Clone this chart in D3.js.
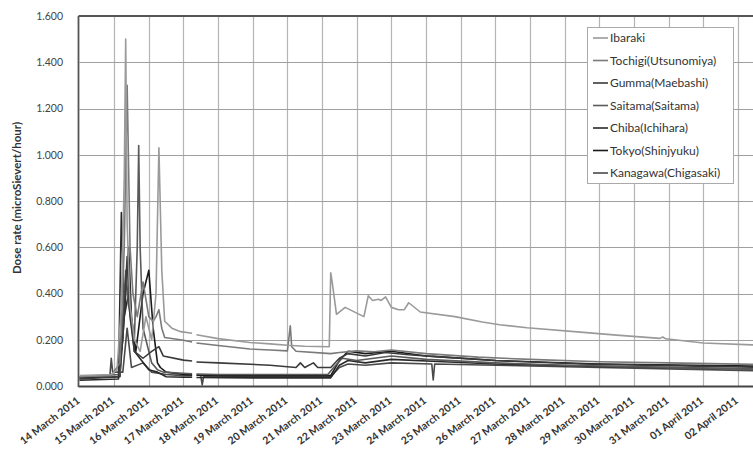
<!DOCTYPE html>
<html><head><meta charset="utf-8">
<script src="https://cdn.jsdelivr.net/npm/d3@7"></script>
<style>
html,body{margin:0;padding:0;background:#fff;}
svg{display:block;}
text{font-family:Lato,"Open Sans",sans-serif;}
</style></head>
<body>
<svg id="chart" width="753" height="450"></svg>
<script>
// ---- data ----
const seriesNames = ["Ibaraki","Tochigi(Utsunomiya)","Gumma(Maebashi)","Saitama(Saitama)","Chiba(Ichihara)","Tokyo(Shinjyuku)","Kanagawa(Chigasaki)"];
const yTicks = [0,0.2,0.4,0.6,0.8,1.0,1.2,1.4,1.6];

const ibaraki = [["03-14 00",0.045],["03-14 22",0.05],["03-15 02",0.07],["03-15 05",0.35],["03-15 07",0.9],["03-15 08",1.50],["03-15 09",0.7],["03-15 11",0.35],["03-15 14",0.2],["03-15 18",0.15],["03-15 22",0.3],["03-16 02",0.2],["03-16 05",0.4],["03-16 07",1.03],["03-16 09",0.5],["03-16 11",0.28],["03-16 16",0.25],["03-16 22",0.235],["03-17 06",0.228],["03-17 07",null],["03-17 09",0.222],["03-18 00",0.205],["03-18 22",0.188],["03-19 12",0.182],["03-20 00",0.176],["03-20 12",0.172],["03-21 05",0.17],["03-21 06",0.49],["03-21 07",0.45],["03-21 10",0.31],["03-21 16",0.34],["03-22 05",0.30],["03-22 08",0.39],["03-22 11",0.37],["03-22 15",0.375],["03-22 17",0.37],["03-22 20",0.385],["03-23 00",0.34],["03-23 05",0.33],["03-23 09",0.33],["03-23 12",0.36],["03-23 20",0.32],["03-24 20",0.30],["03-25 15",0.277],["03-26 03",0.265],["03-26 22",0.252],["03-28 13",0.232],["03-29 12",0.22],["03-30 18",0.206],["03-30 20",0.212],["03-30 22",0.204],["04-01 00",0.186],["04-02 10",0.178],["04-03 00",0.175]];
const tochigi = [["03-14 00",0.04],["03-14 22",0.045],["03-15 04",0.1],["03-15 07",0.6],["03-15 09",1.30],["03-15 11",0.6],["03-15 13",0.4],["03-15 16",0.3],["03-15 20",0.45],["03-16 00",0.3],["03-16 03",0.28],["03-16 05",0.3],["03-16 07",0.33],["03-16 09",0.25],["03-16 11",0.21],["03-17 00",0.198],["03-17 06",0.19],["03-17 07",null],["03-17 09",0.186],["03-18 00",0.175],["03-18 22",0.16],["03-19 12",0.156],["03-20 00",0.152],["03-20 02",0.26],["03-20 03",0.17],["03-20 06",0.15],["03-21 06",0.14],["03-21 12",0.145],["03-22 00",0.152],["03-22 12",0.148],["03-23 00",0.156],["03-24 00",0.14],["03-25 12",0.125],["03-27 00",0.115],["03-29 00",0.105],["03-31 00",0.1],["04-03 00",0.092]];
const gumma = [["03-14 00",0.03],["03-15 03",0.04],["03-15 06",0.2],["03-15 09",0.56],["03-15 11",0.3],["03-15 14",0.15],["03-15 20",0.12],["03-16 02",0.15],["03-16 07",0.17],["03-16 10",0.13],["03-17 00",0.112],["03-17 06",0.108],["03-17 07",null],["03-17 09",0.104],["03-18 00",0.1],["03-19 12",0.09],["03-20 06",0.08],["03-20 09",0.1],["03-20 12",0.08],["03-20 18",0.1],["03-20 21",0.08],["03-21 06",0.08],["03-21 12",0.12],["03-21 18",0.14],["03-22 06",0.13],["03-22 20",0.145],["03-23 12",0.135],["03-24 12",0.125],["03-26 00",0.11],["03-28 12",0.095],["03-31 00",0.088],["04-03 00",0.08]];
const saitama = [["03-14 00",0.04],["03-15 04",0.05],["03-15 06",0.3],["03-15 08",0.5],["03-15 10",0.35],["03-15 14",0.2],["03-15 16",0.6],["03-15 17",1.04],["03-15 18",0.6],["03-15 20",0.25],["03-16 02",0.1],["03-16 06",0.07],["03-16 10",0.06],["03-17 00",0.055],["03-17 06",0.053],["03-17 07",null],["03-17 09",0.052],["03-18 00",0.05],["03-21 04",0.05],["03-21 08",0.08],["03-21 14",0.12],["03-22 00",0.11],["03-22 12",0.12],["03-23 00",0.13],["03-24 00",0.115],["03-26 00",0.1],["03-28 00",0.09],["03-31 00",0.08],["04-03 00",0.072]];
const chiba = [["03-14 00",0.025],["03-15 03",0.03],["03-15 05",0.75],["03-15 07",0.3],["03-15 10",0.4],["03-15 14",0.15],["03-16 00",0.07],["03-16 06",0.06],["03-16 12",0.04],["03-17 00",0.038],["03-17 06",0.038],["03-17 07",null],["03-17 09",0.037],["03-19 00",0.035],["03-21 06",0.035],["03-21 12",0.09],["03-21 18",0.11],["03-22 06",0.1],["03-23 00",0.115],["03-24 12",0.105],["03-26 00",0.095],["03-29 00",0.085],["04-03 00",0.072]];
const tokyo = [["03-14 00",0.035],["03-15 04",0.04],["03-15 07",0.3],["03-15 10",0.6],["03-15 12",0.3],["03-15 15",0.15],["03-15 20",0.4],["03-16 00",0.5],["03-16 03",0.25],["03-16 06",0.1],["03-16 08",0.08],["03-16 12",0.06],["03-17 00",0.05],["03-17 06",0.048],["03-17 07",null],["03-17 09",0.047],["03-18 12",0.045],["03-21 06",0.045],["03-21 12",0.11],["03-21 18",0.15],["03-22 06",0.14],["03-23 00",0.15],["03-24 00",0.13],["03-24 05",0.128],["03-26 00",0.11],["03-29 00",0.095],["04-03 00",0.085]];
const kanagawa = [["03-14 00",0.04],["03-14 21",0.04],["03-14 22",0.12],["03-14 23",0.06],["03-15 06",0.06],["03-15 09",0.25],["03-15 12",0.08],["03-15 20",0.1],["03-16 02",0.06],["03-16 12",0.05],["03-17 00",0.045],["03-17 06",0.044],["03-17 07",null],["03-17 12",0.043],["03-17 13",0.005],["03-17 14",0.043],["03-19 00",0.04],["03-21 06",0.04],["03-21 12",0.08],["03-21 18",0.095],["03-22 06",0.09],["03-23 00",0.1],["03-24 04",0.095],["03-24 05",0.026],["03-24 06",0.095],["03-26 00",0.09],["03-29 00",0.08],["04-03 00",0.065]];

const seriesData = [ibaraki,tochigi,gumma,saitama,chiba,tokyo,kanagawa];
const seriesColors = ["#9a9a9a","#7a7a7a","#3a3a3a","#5a5a5a","#2a2a2a","#1a1a1a","#4a4a4a"];

// ---- chart ----
const parse = d3.timeParse("%Y-%m-%d %H");
const svg = d3.select("#chart");
const x = d3.scaleTime().domain([parse("2011-03-14 00"), parse("2011-04-03 00")]).range([79.5, 772.5]);
const y = d3.scaleLinear().domain([0,1.6]).range([386,16]);

// gridlines
const days = d3.timeDay.range(parse("2011-03-14 00"), parse("2011-04-03 00"));
svg.append("g").selectAll("line").data(days.slice(1)).join("line")
  .attr("x1",d=>Math.round(x(d))+0.5).attr("x2",d=>Math.round(x(d))+0.5)
  .attr("y1",y(1.6)).attr("y2",y(0)).attr("stroke","#b4b4b4").attr("stroke-width",1.2);
svg.append("g").selectAll("line").data(yTicks.slice(1,-1)).join("line")
  .attr("x1",x.range()[0]).attr("x2",753)
  .attr("y1",d=>Math.round(y(d))+0.5).attr("y2",d=>Math.round(y(d))+0.5)
  .attr("stroke","#a0a0a0").attr("stroke-width",1.2);

// frame
svg.append("line").attr("x1",78.5).attr("x2",753).attr("y1",16).attr("y2",16).attr("stroke","#555").attr("stroke-width",2.2);
svg.append("line").attr("x1",78.5).attr("x2",753).attr("y1",386.5).attr("y2",386.5).attr("stroke","#444").attr("stroke-width",2);
svg.append("line").attr("x1",78.5).attr("x2",78.5).attr("y1",16).attr("y2",387).attr("stroke","#555").attr("stroke-width",1.8);

// y axis labels
svg.append("g").selectAll("text").data(yTicks).join("text")
  .attr("x",63).attr("y",d=>y(d)+3.8).attr("text-anchor","end")
  .attr("font-size",10.5).attr("fill","#444").text(d=>d.toFixed(3));

svg.append("text").attr("transform","translate(21,198) rotate(-90)")
  .attr("text-anchor","middle").attr("font-size",11.5).attr("font-weight","bold").attr("fill","#333")
  .text("Dose rate (microSievert/hour)");

// x axis labels
const fmt = d3.timeFormat("%d %B %Y");
svg.append("g").selectAll("text").data(days).join("text")
  .attr("transform",d=>`translate(${x(d)+1},${402}) rotate(-37)`)
  .attr("text-anchor","end").attr("font-size",10.5).attr("font-weight","bold").attr("fill","#333")
  .text(d=>fmt(d));

// lines
const line = d3.line().defined(d=>d[1]!==null).x(d=>x(parse("2011-"+d[0]))).y(d=>y(d[1]));
const order = [6,5,4,3,2,1,0];
order.forEach(i=>{
  svg.append("path").datum(seriesData[i]).attr("d",line)
    .attr("fill","none").attr("stroke",seriesColors[i]).attr("stroke-width",1.6).attr("stroke-linejoin","round");
});

// legend
const lg = svg.append("g");
lg.append("rect").attr("x",587.5).attr("y",27.5).attr("width",146).attr("height",156)
  .attr("fill","#fff").attr("stroke","#aaa").attr("stroke-width",1);
const ly = d3.scalePoint().domain(seriesNames).range([38,173]);
seriesNames.forEach((n,i)=>{
  lg.append("line").attr("x1",593).attr("x2",608).attr("y1",ly(n)).attr("y2",ly(n))
    .attr("stroke",seriesColors[i]).attr("stroke-width",1.6);
  lg.append("text").attr("x",610).attr("y",ly(n)+4).attr("font-size",12).attr("fill","#333").text(n);
});
</script>
</body></html>
